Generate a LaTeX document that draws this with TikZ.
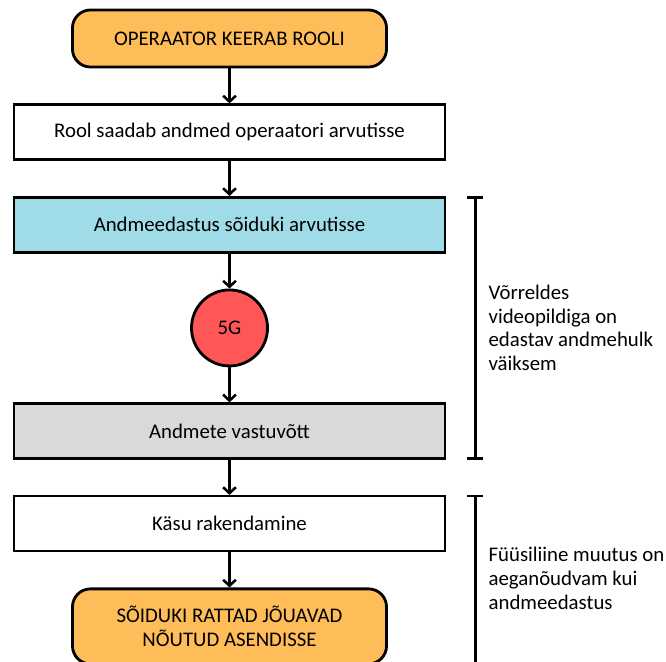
\documentclass[tikz,border=0pt]{standalone}
\usepackage{fontspec}
\setmainfont{Carlito}
\usetikzlibrary{arrows.meta, positioning, calc, shapes.geometric}
\definecolor{termorange}{RGB}{255, 189, 89}
\definecolor{sendblue}{RGB}{160, 220, 232}
\definecolor{netred}{RGB}{255, 87, 87}
\definecolor{recvgray}{RGB}{217, 217, 217}

\begin{document}
\begin{tikzpicture}[
    x=0.025cm, y=-0.025cm,
    node distance=0.875cm,
    every node/.style={font=\fontsize{14.8}{16.9}\selectfont},
    term/.style={rectangle, rounded corners=0.45cm, draw, line width=2pt, fill=termorange,
                 minimum width=7.85cm, minimum height=1.425cm, align=center},
    box/.style={rectangle, draw, line width=1.8pt, minimum width=10.775cm, minimum height=1.375cm},
    arrow/.style={-{Straight Barb[length=1.5mm, width=3.2mm]}, line width=1.8pt},
    bracket/.style={{Bar[width=4mm]}-{Bar[width=4mm]}, line width=1.8pt},
    note/.style={anchor=west, align=left, inner sep=0pt}
]
\useasboundingbox (0,0) rectangle (666,662);

% Steps
\node[term] (op) at (229.5,38.5) {OPERAATOR KEERAB ROOLI};
\node[box, below=of op] (rool) {Rool saadab andmed operaatori arvutisse};
\node[box, fill=sendblue, below=of rool] (edastus) {Andmeedastus sõiduki arvutisse};
\node[circle, draw, line width=2pt, fill=netred, minimum size=1.9cm, below=of edastus] (fiveg) {5G};
\node[box, fill=recvgray, below=of fiveg] (vastuvott) {Andmete vastuvõtt};
\node[box, below=of vastuvott] (kask) {Käsu rakendamine};
\node[term, minimum height=1.875cm, below=of kask] (rattad) {SÕIDUKI RATTAD JÕUAVAD\\NÕUTUD ASENDISSE};

% Arrows
\draw[arrow] (op) -- (rool);
\draw[arrow] (rool) -- (edastus);
\draw[arrow] (edastus) -- (fiveg);
\draw[arrow] (fiveg) -- (vastuvott);
\draw[arrow] (vastuvott) -- (kask);
\draw[arrow] (kask) -- (rattad);

% Brackets
\coordinate (b1top) at ($(edastus.north east)+(29,0)$);
\coordinate (b1bot) at ($(vastuvott.south east)+(29,0)$);
\draw[bracket] (b1top) -- (b1bot);
\node[note] (note1) at ($(b1top)!0.5!(b1bot)+(13,0)$) {Võrreldes\\videopildiga on\\edastav andmehulk\\väiksem};

\coordinate (b2top) at ($(kask.north east)+(29,0)$);
\coordinate (b2bot) at ($(rattad.south east)+(88,0)$);
\draw[bracket] (b2top) -- (b2top |- b2bot);
\node[note] (note2) at ($(b2top)!0.5!(b2top |- b2bot)+(13,-2)$) {Füüsiliine muutus on\\aeganõudvam kui\\andmeedastus};
\end{tikzpicture}
\end{document}
